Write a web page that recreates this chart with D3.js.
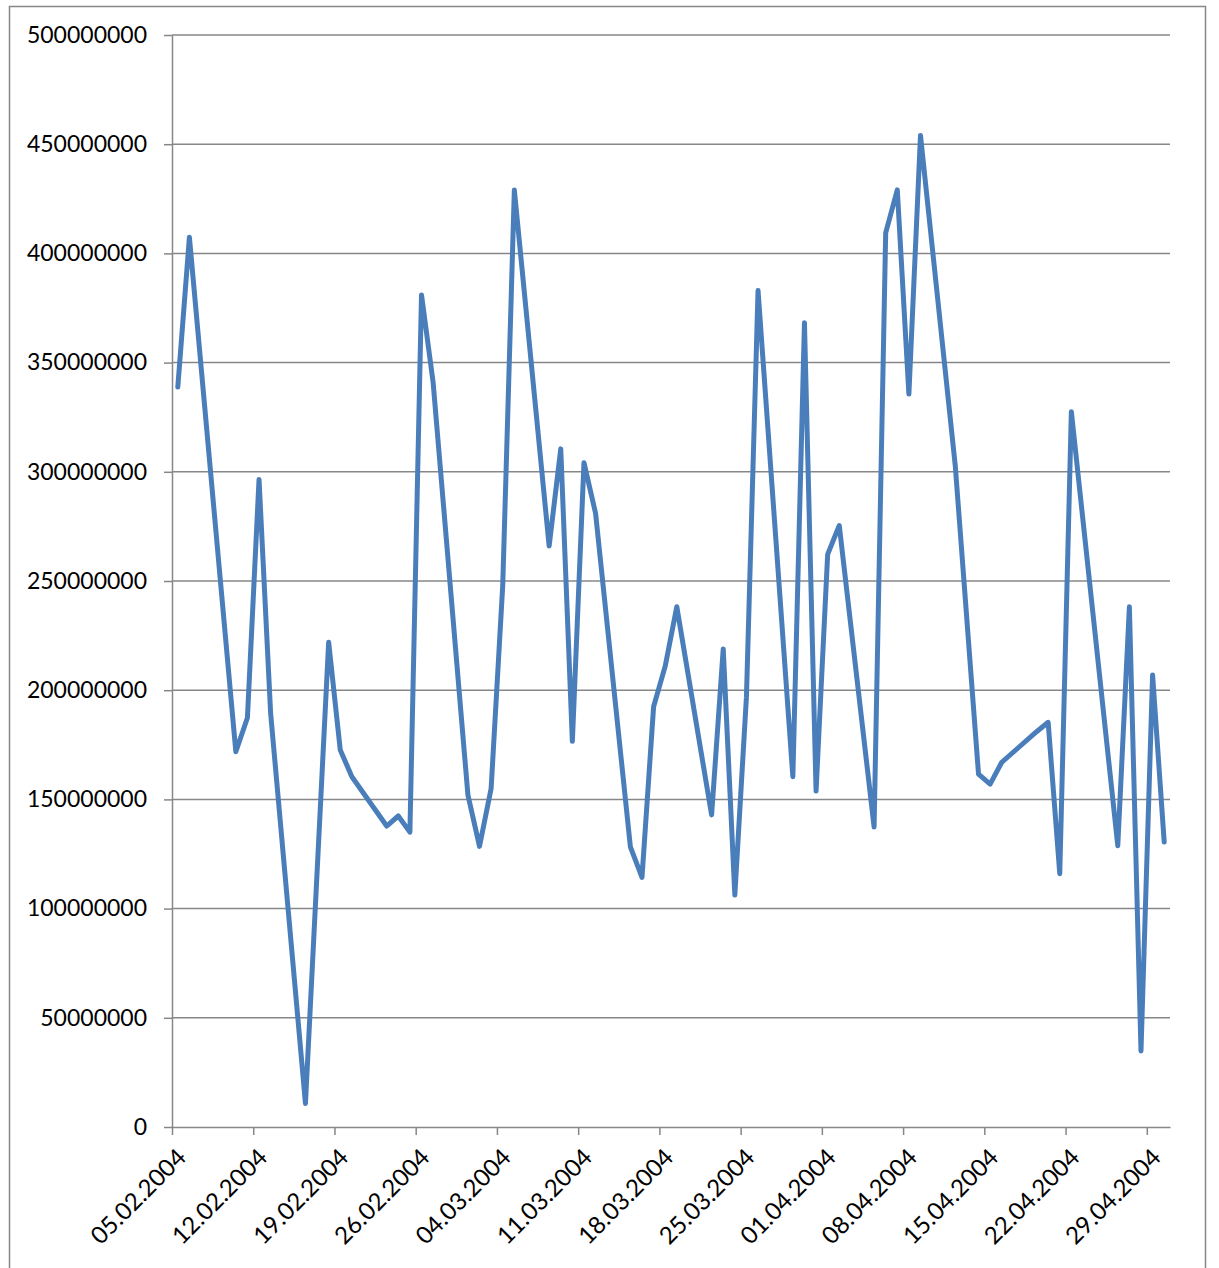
<!DOCTYPE html>
<html>
<head>
<meta charset="utf-8">
<script src="https://cdn.jsdelivr.net/npm/d3@7"></script>
<style>
  html, body { margin: 0; padding: 0; background: #ffffff; }
  svg { display: block; }
  text { font-family: Lato, "Open Sans", sans-serif; fill: #000; }
</style>
</head>
<body>
<script>
// Trading days (dd.mm.yyyy) and the daily volume for each
const dates = [
  "05.02.2004","06.02.2004","10.02.2004","11.02.2004","12.02.2004","13.02.2004",
  "16.02.2004","18.02.2004","19.02.2004","20.02.2004",
  "23.02.2004","24.02.2004","25.02.2004","26.02.2004","27.02.2004",
  "01.03.2004","02.03.2004","03.03.2004","04.03.2004","05.03.2004",
  "08.03.2004","09.03.2004","10.03.2004","11.03.2004","12.03.2004",
  "15.03.2004","16.03.2004","17.03.2004","18.03.2004","19.03.2004",
  "22.03.2004","23.03.2004","24.03.2004","25.03.2004","26.03.2004",
  "29.03.2004","30.03.2004","31.03.2004","01.04.2004","02.04.2004",
  "05.04.2004","06.04.2004","07.04.2004","08.04.2004","09.04.2004",
  "12.04.2004","14.04.2004","15.04.2004","16.04.2004",
  "19.04.2004","20.04.2004","21.04.2004","22.04.2004",
  "26.04.2004","27.04.2004","28.04.2004","29.04.2004","30.04.2004"
];
const values = [
  338800000, 407400000, 171800000, 187400000, 296500000, 189400000,
  10800000, 222000000, 172600000, 160400000,
  137800000, 142400000, 135000000, 381000000, 341000000,
  152000000, 128500000, 155000000, 248000000, 429000000,
  266000000, 310500000, 176600000, 304200000, 281000000,
  128300000, 114300000, 192400000, 211000000, 238200000,
  142900000, 218900000, 106200000, 196800000, 383000000,
  160400000, 368200000, 153800000, 262200000, 275400000,
  137400000, 409400000, 429100000, 335600000, 454000000,
  302500000, 161600000, 157000000, 167000000,
  181000000, 185300000, 116000000, 327500000,
  128800000, 238200000, 34800000, 207000000, 130500000
];
// Axis ticks
const xTickLabels = [
  "05.02.2004","12.02.2004","19.02.2004","26.02.2004","04.03.2004",
  "11.03.2004","18.03.2004","25.03.2004","01.04.2004","08.04.2004",
  "15.04.2004","22.04.2004","29.04.2004"
];
const xDomainLabels = ["05.02.2004", "01.05.2004"];
const yTicks = [0, 50000000, 100000000, 150000000, 200000000, 250000000,
                300000000, 350000000, 400000000, 450000000, 500000000];

const W = 1219, H = 1268;
const plotLeft = 172, plotRight = 1170, plotTop = 35, plotBottom = 1127;
const gray = "#878787";

const parse = d3.utcParse("%d.%m.%Y");
const points = dates.map((d, i) => ({ date: parse(d), value: values[i] }));

const x = d3.scaleUtc()
  .domain(xDomainLabels.map(parse))
  .range([plotLeft, plotRight]);
const y = d3.scaleLinear()
  .domain([0, 500000000])
  .range([plotBottom, plotTop]);

// each value sits in the middle of its day
const mid = d => d3.utcHour.offset(d, 12);

const svg = d3.select("body").append("svg")
  .attr("width", W).attr("height", H);

svg.append("rect").attr("width", W).attr("height", H).attr("fill", "#fff");

// chart frame
svg.append("rect")
  .attr("x", 9.5).attr("y", 6.5)
  .attr("width", 1196).attr("height", 1290)
  .attr("fill", "none").attr("stroke", gray).attr("stroke-width", 1.5);

// horizontal gridlines
svg.append("g").selectAll("line").data(yTicks.slice(1)).join("line")
  .attr("x1", plotLeft).attr("x2", plotRight)
  .attr("y1", d => y(d)).attr("y2", d => y(d))
  .attr("stroke", gray).attr("stroke-width", 1.5);

// y axis
const yAxis = svg.append("g")
  .attr("transform", `translate(${plotLeft},0)`)
  .call(d3.axisLeft(y).tickValues(yTicks).tickSizeInner(8).tickSizeOuter(0)
    .tickPadding(17).tickFormat(d3.format("d")));
yAxis.select(".domain").attr("stroke", gray).attr("stroke-width", 1.5);
yAxis.selectAll(".tick line").attr("stroke", gray).attr("stroke-width", 1.5);
yAxis.selectAll(".tick text")
  .style("font-size", "23px").attr("fill", "#000");

// x axis
const xAxis = svg.append("g")
  .attr("transform", `translate(0,${plotBottom})`)
  .call(d3.axisBottom(x).tickValues(xTickLabels.map(parse))
    .tickSizeInner(8).tickSizeOuter(0)
    .tickFormat(d3.utcFormat("%d.%m.%Y")));
xAxis.select(".domain").attr("stroke", gray).attr("stroke-width", 1.5);
xAxis.selectAll(".tick line").attr("stroke", gray).attr("stroke-width", 1.5);
xAxis.selectAll(".tick text")
  .style("font-size", "24px").attr("fill", "#000")
  .attr("text-anchor", "end")
  .attr("x", 0).attr("y", 0).attr("dy", 0)
  .attr("transform", "translate(15,32) rotate(-45)");

// the series
const line = d3.line()
  .x(d => x(mid(d.date)))
  .y(d => y(d.value));

svg.append("path")
  .datum(points)
  .attr("d", line)
  .attr("fill", "none")
  .attr("stroke", "#4A7EBB")
  .attr("stroke-width", 5)
  .attr("stroke-linejoin", "round")
  .attr("stroke-linecap", "round");
</script>
</body>
</html>
